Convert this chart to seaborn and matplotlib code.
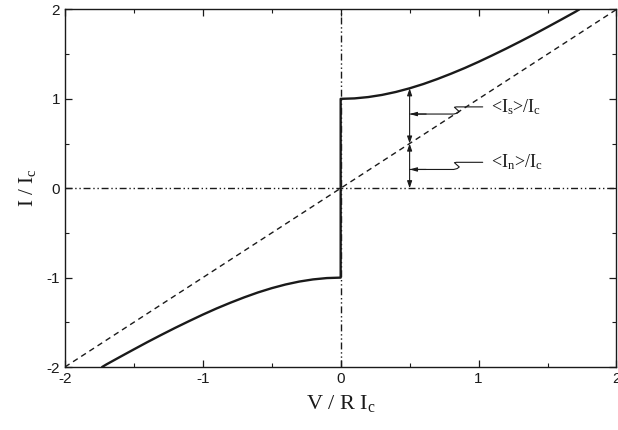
import matplotlib
matplotlib.use("Agg")
import matplotlib.pyplot as plt
import seaborn as sns
import pandas as pd

# I-V characteristic of an overdamped junction (normalised units)
v_pos = [0.0, 0.1, 0.2, 0.3, 0.4, 0.5, 0.6, 0.7, 0.8, 0.9, 1.0,
         1.1, 1.2, 1.3, 1.4, 1.5, 1.6, 1.7, 1.73]
i_pos = [1.00, 1.005, 1.02, 1.044, 1.077, 1.118, 1.166, 1.221, 1.281, 1.345, 1.414,
         1.487, 1.562, 1.640, 1.720, 1.803, 1.887, 1.972, 2.0]
v_neg = [-1.73, -1.7, -1.6, -1.5, -1.4, -1.3, -1.2, -1.1, -1.0, -0.9, -0.8,
         -0.7, -0.6, -0.5, -0.4, -0.3, -0.2, -0.1, 0.0]
i_neg = [-2.0, -1.972, -1.887, -1.803, -1.720, -1.640, -1.562, -1.487, -1.414, -1.345, -1.281,
         -1.221, -1.166, -1.118, -1.077, -1.044, -1.02, -1.005, -1.00]

# ohmic line I = V/R
v_ohm = [-2.0, 2.0]
i_ohm = [-2.0, 2.0]

# bias point where the current is split into its two components
v_mark = 0.5
i_mark_total = 1.118
i_mark_normal = 0.5

x_ticks = [-2, -1, 0, 1, 2]
y_ticks = [-2, -1, 0, 1, 2]

sns.set_theme(style="ticks")
plt.rcParams["font.family"] = ["Liberation Sans", "DejaVu Sans"]
plt.rcParams["mathtext.fontset"] = "custom"
plt.rcParams["mathtext.rm"] = "Liberation Serif"
plt.rcParams["mathtext.it"] = "Liberation Serif:italic"
plt.rcParams["mathtext.bf"] = "Liberation Serif:bold"

curve = pd.DataFrame({"V": v_neg + v_pos, "I": i_neg + i_pos})
ohm = pd.DataFrame({"V": v_ohm, "I": i_ohm})

fig = plt.figure(figsize=(6.18, 4.30), dpi=100)
ax = fig.add_axes([0.105, 0.1465, 0.8925, 0.8315])

ink = "#1a1a1a"
dash_dot_dot = (0, (5, 2, 1, 2, 1, 2))

# reference axes through the origin
ax.axhline(0, color=ink, lw=1.0, ls=dash_dot_dot, zorder=1)
ax.axvline(0, color=ink, lw=1.0, ls=dash_dot_dot, zorder=1)

sns.lineplot(data=ohm, x="V", y="I", ax=ax, color=ink, lw=1.0,
             linestyle=(0, (4, 3)), zorder=2)
sns.lineplot(data=curve, x="V", y="I", ax=ax, color=ink, lw=1.7,
             sort=False, estimator=None, zorder=3)

# split of the current at the marked bias point
arrow_kw = dict(arrowstyle="<|-|>,head_length=0.35,head_width=0.12",
                color=ink, lw=0.8, shrinkA=0, shrinkB=0)
ax.annotate("", xy=(v_mark, 0.0), xytext=(v_mark, i_mark_normal), arrowprops=arrow_kw)
ax.annotate("", xy=(v_mark, i_mark_normal), xytext=(v_mark, i_mark_total), arrowprops=arrow_kw)


def leader(y_low, y_high, label):
    x1, x2, x3 = 0.82, 0.87, 1.03
    dy = y_high - y_low
    xs = [v_mark, x1, x1 + 0.025, x1 + 0.04, x1 + 0.025, x1 + 0.005, x1 + 0.02, x2, x3]
    ys = [y_low, y_low, y_low + 0.01, y_low + 0.35 * dy, y_low + 0.6 * dy,
          y_high - 0.05 * dy, y_high, y_high, y_high]
    ax.plot(xs, ys, color=ink, lw=0.8, zorder=4)
    ax.annotate("", xy=(v_mark, y_low), xytext=(v_mark + 0.12, y_low),
                arrowprops=dict(arrowstyle="-|>,head_length=0.35,head_width=0.1",
                                color=ink, lw=0.8, shrinkA=0, shrinkB=0))
    ax.text(x3 + 0.06, y_high, label, fontsize=13, family="Liberation Serif",
            va="center", ha="left", color=ink)


leader(0.83, 0.91, r"<I$_\mathrm{s}$>/I$_\mathrm{c}$")
leader(0.21, 0.29, r"<I$_\mathrm{n}$>/I$_\mathrm{c}$")

ax.set_xlim(-2, 2)
ax.set_ylim(-2, 2)
ax.set_xticks(x_ticks)
ax.set_yticks(y_ticks)
ax.set_xticks([-1.5, -0.5, 0.5, 1.5], minor=True)
ax.set_yticks([-1.5, -0.5, 0.5, 1.5], minor=True)
ax.set_xticklabels([str(t) for t in x_ticks])
ax.set_yticklabels([str(t) for t in y_ticks])
ax.tick_params(which="both", direction="in", top=True, right=True, color=ink,
               labelsize=11, labelcolor=ink)
ax.tick_params(which="major", length=5, width=0.9)
ax.tick_params(which="minor", length=3, width=0.8)
for s in ax.spines.values():
    s.set_color(ink)
    s.set_linewidth(1.0)

ax.set_xlabel(r"V / R I$_\mathrm{c}$", fontsize=16, family="Liberation Serif",
              math_fontfamily="custom", color=ink, labelpad=5)
ax.set_ylabel(r"I / I$_\mathrm{c}$", fontsize=15, family="Liberation Serif",
              math_fontfamily="custom", color=ink, labelpad=6)

fig.savefig("out.png", dpi=100, facecolor="white")
